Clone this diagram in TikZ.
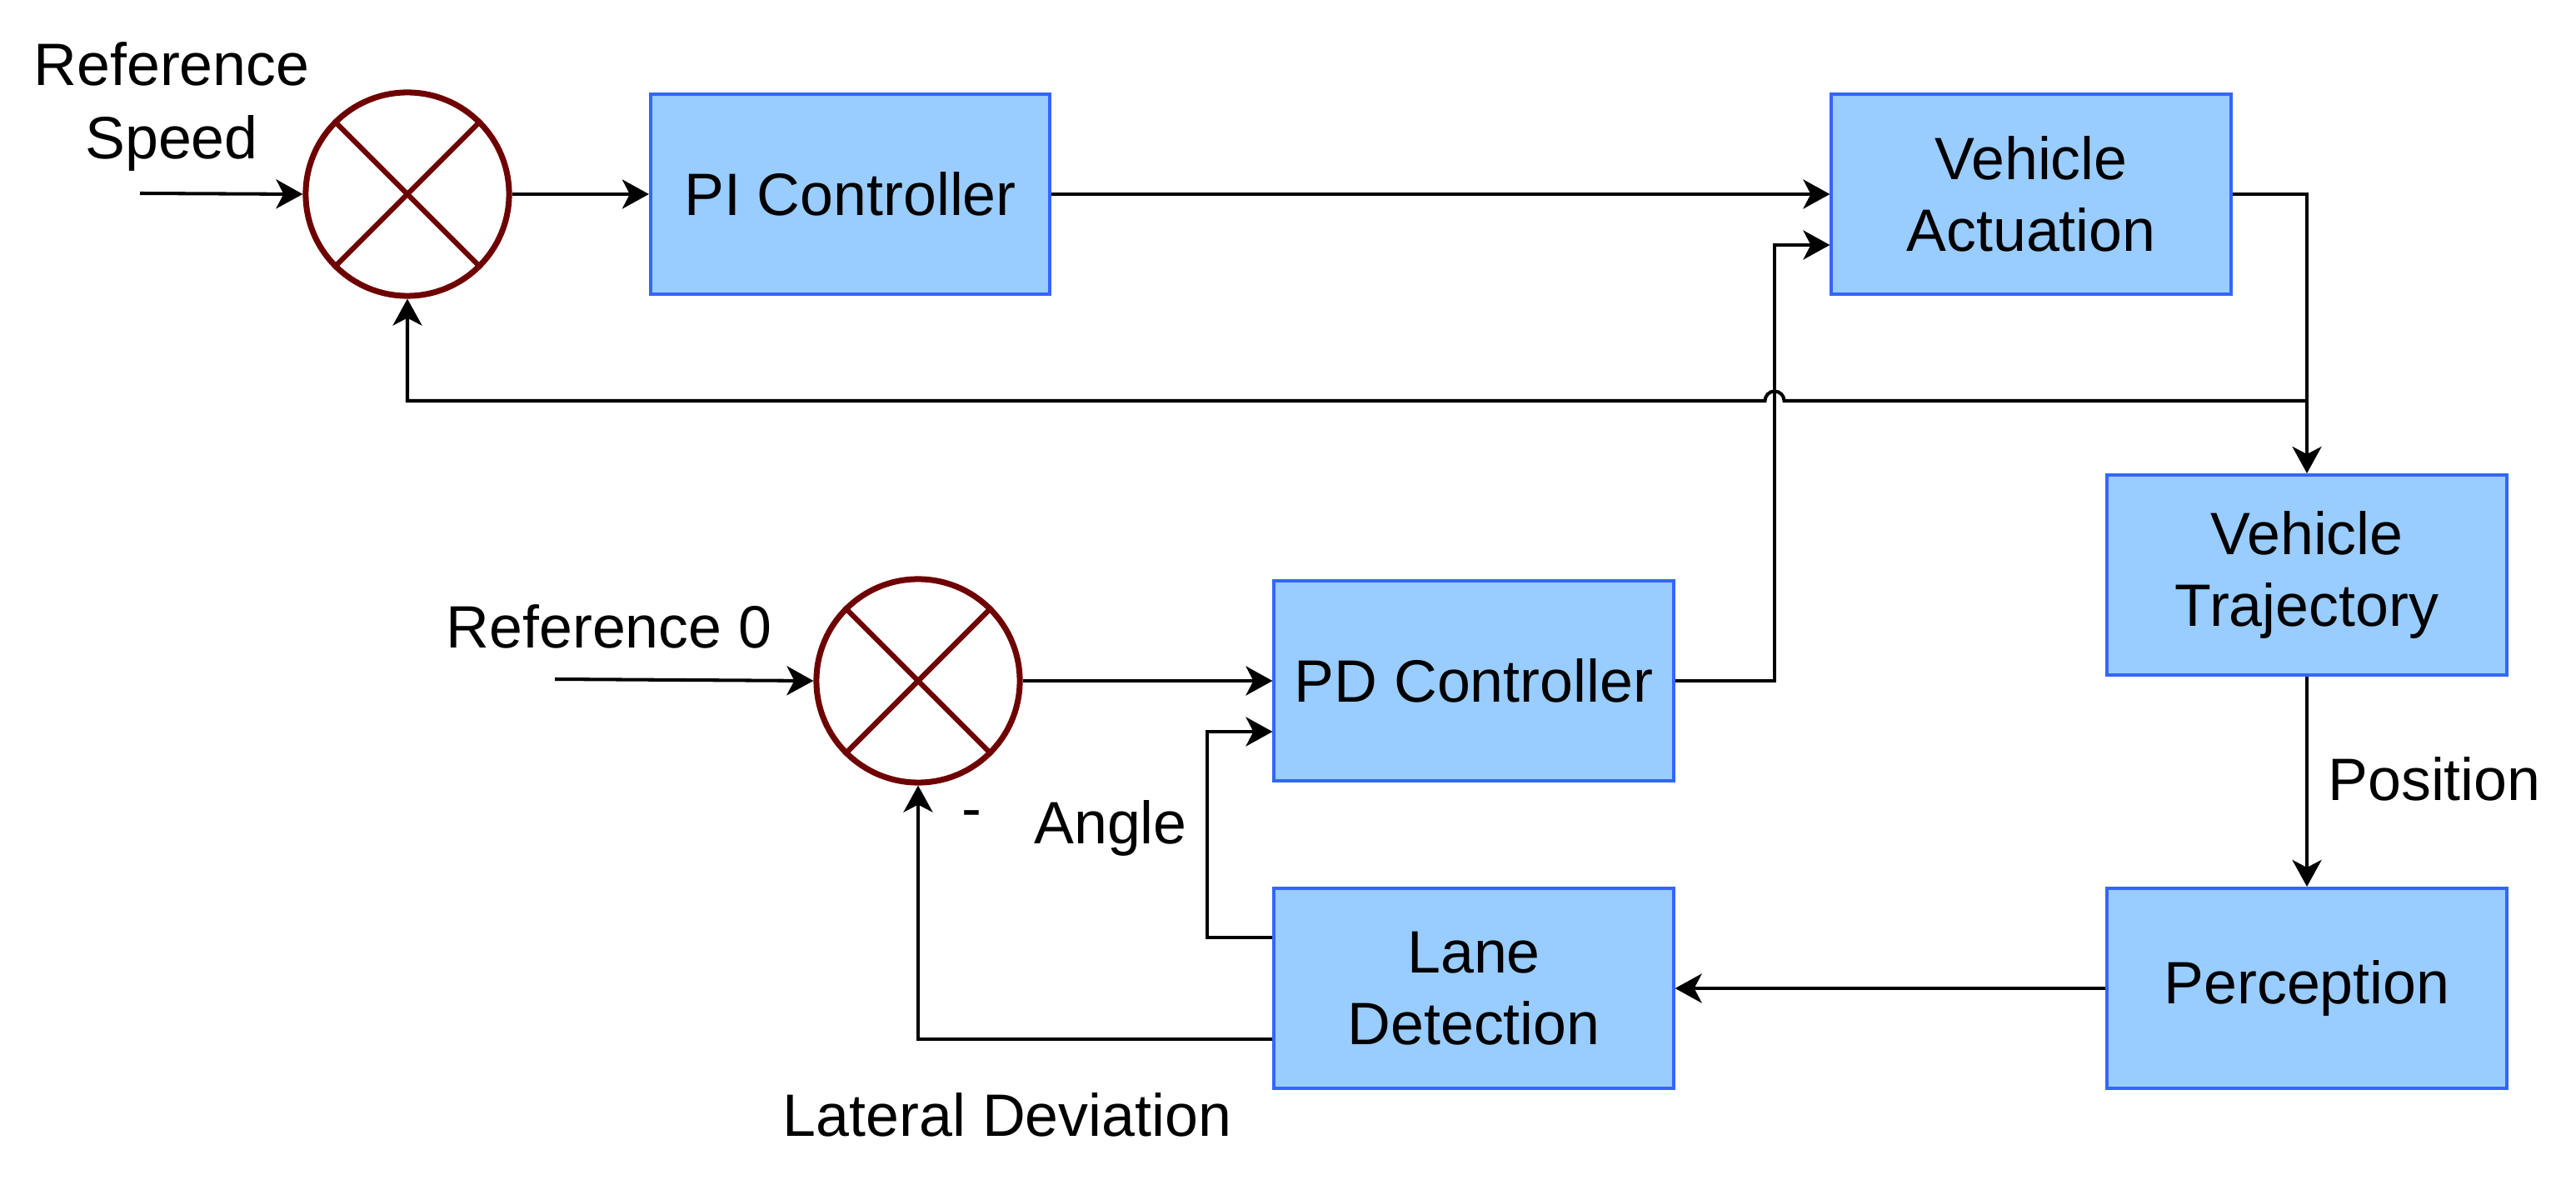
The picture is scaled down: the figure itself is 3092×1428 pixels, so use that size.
\documentclass[tikz,border=0pt]{standalone}
\usepackage{fontspec}
\setmainfont{Liberation Sans}
\usetikzlibrary{arrows.meta,calc}
\definecolor{boxfill}{HTML}{99CCFF}
\definecolor{boxline}{HTML}{3366FF}
\definecolor{sumline}{HTML}{6F0000}
\begin{document}
\begin{tikzpicture}[x=0.01cm,y=-0.01cm,
  blk/.style={draw=boxline, fill=boxfill, line width=1.1pt, minimum width=4.79cm, minimum height=2.40cm, align=center, inner sep=0pt, font=\fontsize{20.4}{24.5}\selectfont},
  sumj/.style={circle, draw=sumline, line width=2pt, minimum size=2.44cm, inner sep=0pt},
  conn/.style={line width=1.15pt, -{Stealth[length=0.32cm,width=0.35cm,inset=0.09cm]}},
  lbl/.style={font=\fontsize{20.4}{25}\selectfont, inner sep=0pt},
  crossline/.style={draw=sumline, line width=1.8pt}]
\useasboundingbox (0,0) rectangle (3092,1428);

% blocks
\node[blk] (pi)   at (1020.5,233) {PI Controller};
\node[blk] (act)  at (2438,233)   {Vehicle\\Actuation};
\node[blk] (traj) at (2769,690)   {Vehicle\\Trajectory};
\node[blk] (pd)   at (1769,817)   {PD Controller};
\node[blk] (lane) at (1769,1186)  {Lane\\Detection};
\node[blk] (perc) at (2769,1186)  {Perception};

% summing junctions
\node[sumj] (c1) at (489,233) {};
\node[sumj] (c2) at (1102,817) {};
\draw[crossline] (c1.135) -- (c1.-45) (c1.45) -- (c1.-135);
\draw[crossline] (c2.135) -- (c2.-45) (c2.45) -- (c2.-135);

% helper coordinates
\coordinate (rs) at (168,232);
\coordinate (r0) at (666,815);
\coordinate (jx) at (2130,0);
\coordinate (ax) at (1449,0);
\coordinate (fbR) at (2769,481);
\coordinate (actin2) at ($(act.south west)!0.25!(act.north west)$);
\coordinate (pdin2) at ($(pd.north west)!0.75!(pd.south west)$);
\coordinate (lanea) at ($(lane.north west)!0.25!(lane.south west)$);
\coordinate (laneb) at ($(lane.north west)!0.75!(lane.south west)$);

% connectors
\draw[conn] (rs) -- (c1.west);
\draw[conn] (c1.east) -- (pi.west);
\draw[conn] (pi.east) -- (act.west);
\draw[conn] (pd.east) -- (pd.east -| jx) |- (actin2);
\draw[conn] (act.east) -| (traj.north);
\draw[conn] (fbR) -- ($(fbR -| jx)+(11.5,0)$) arc[start angle=0,end angle=180,radius=0.115cm] -- (c1.south |- fbR) -- (c1.south);
\draw[conn] (traj.south) -- (perc.north);
\draw[conn] (perc.west) -- (lane.east);
\draw[conn] (lanea) -- (lanea -| ax) |- (pdin2);
\draw[conn] (laneb) -| (c2.south);
\draw[conn] (r0) -- (c2.west);
\draw[conn] (c2.east) -- (pd.west);

% labels
\node[lbl, align=center] (lrs) at (206,128) {Reference\\Speed};
\node[lbl, anchor=base] (lr0) at (731,777) {Reference 0};
\node[lbl, anchor=base] (lpos) at (2922,960) {Position};
\node[lbl, anchor=base] (lang) at (1333,1012) {Angle};
\node[lbl, anchor=base] (lmin) at (1166,994) {-};
\node[lbl, anchor=base] (llat) at (1209,1363) {Lateral Deviation};
\end{tikzpicture}
\end{document}
